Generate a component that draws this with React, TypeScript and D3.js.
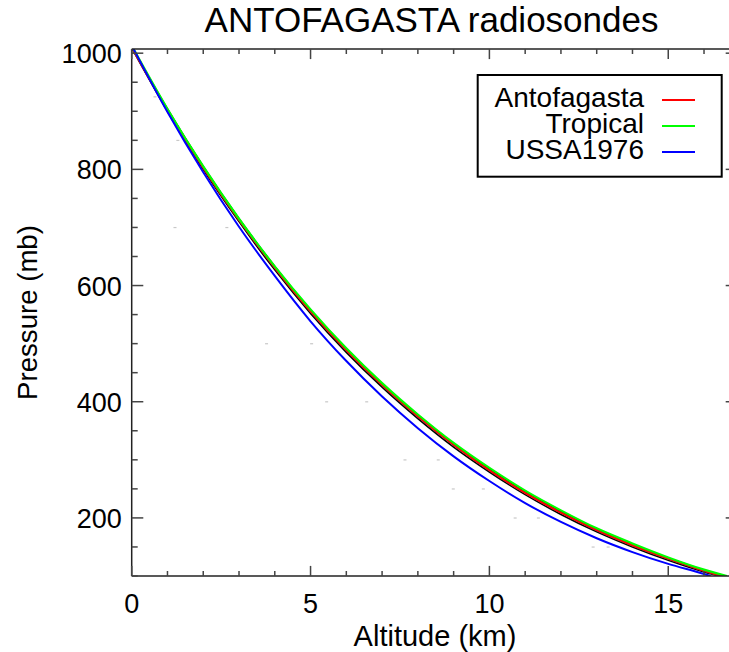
import React from "react";
import * as d3 from "d3";

// ---- data ----
const ussaAlt = [0, 1, 2, 3, 4, 5, 6, 7, 8, 9, 10, 11, 12, 13, 14, 15, 16, 16.18];
const ussaP = [1013.25, 898.76, 795.01, 701.21, 616.6, 538.5, 470.0, 409.0, 354.5, 306.0, 263.5, 225.5, 193.0, 165.0, 141.2, 120.8, 103.5, 100];

const tropAlt = [0, 1, 2, 3, 4, 5, 6, 7, 8, 9, 10, 11, 12, 13, 14, 15, 16, 16.64];
const tropP = [1013, 904, 805, 715, 633, 559, 492, 432, 378, 329, 286, 247, 213, 182, 156, 132, 111, 100];

const antoAlt = [0, 1, 2, 3, 4, 5, 6, 7, 8, 9, 10, 11, 12, 13, 14, 15, 16, 16.5];
const antoP = [1010, 902, 803, 713, 631, 556, 489, 429, 375, 326, 282, 243, 209, 179, 153, 130, 109, 100];

const sondeAlt1 = [0, 1, 2, 3, 4, 5, 6, 7, 8, 9, 10, 11, 12, 13, 14, 15, 16, 16.6];
const sondeP1 = [1011, 904, 805, 715, 633, 558, 491, 431, 377, 328, 284, 245, 211, 180, 154, 131, 110, 100];
const sondeAlt2 = [0, 1, 2, 3, 4, 5, 6, 7, 8, 9, 10, 11, 12, 13, 14, 15, 16, 16.42];
const sondeP2 = [1009, 900, 800, 710, 627, 552, 485, 425, 371, 322, 279, 240, 206, 176, 150, 127, 107, 100];

const outlierAlt = [0.65, 1.29, 1.21, 2.66, 3.77, 5.03, 5.45, 6.57, 7.64, 8.57, 8.99, 9.83, 10.72, 11.37, 12.9, 13.32];
const outlierP = [925, 850, 700, 700, 500, 500, 400, 400, 300, 300, 250, 250, 200, 200, 150, 150];

const xMajorTicks = [0, 5, 10, 15];
const xMinorTicks = d3.range(0, 17, 1);
const yMajorTicks = [200, 400, 600, 800, 1000];
const yMinorTicks = d3.range(100, 1001, 50);

const legendNames = ["Antofagasta", "Tropical", "USSA1976"];
const legendColors = ["#ff0000", "#00ff00", "#0000ff"];

const title = "ANTOFAGASTA radiosondes";
const xTitle = "Altitude (km)";
const yTitle = "Pressure (mb)";

// ---- layout ----
const W = 729;
const H = 652;
const left = 131.7;
const top = 49;
const bottom = 576;
const xMax = 16.93;
const kmPx = 35.77;
const right = left + xMax * kmPx;
const FONT = "'Liberation Sans', Arial, Helvetica, sans-serif";

export default function App() {
  const x = d3.scaleLinear().domain([0, xMax]).range([left, right]);
  const y = d3.scaleLinear().domain([100, 1007.2]).range([bottom, top]);

  const mk = (alts: number[], ps: number[]) =>
    d3
      .line<number>()
      .x((_, i) => x(alts[i]))
      .y((p) => y(p))
      .curve(d3.curveMonotoneX)(ps) || "";

  const tickCol = "#444";
  const majLen = 11.6;
  const minLen = 6;

  return (
    <svg
      width={W}
      height={H}
      style={{ position: "absolute", left: 0, top: 0, background: "#fff" }}
      fontFamily={FONT}
    >
      <defs>
        <clipPath id="plotclip">
          <rect x={left} y={top} width={right - left} height={bottom - top} />
        </clipPath>
      </defs>
      <rect x={0} y={0} width={W} height={H} fill="#fff" />

      {/* title */}
      <text x={431.5} y={32.3} fontSize={35} textAnchor="middle" fill="#000">
        {title}
      </text>

      <g clipPath="url(#plotclip)">
        {outlierAlt.map((a, i) => (
          <rect
            key={i}
            x={x(a) - 1.5}
            y={y(outlierP[i]) - 0.5}
            width={3}
            height={1.2}
            fill="#c8c8c8"
          />
        ))}
        <path d={mk(sondeAlt1, sondeP1)} fill="none" stroke="#000" strokeWidth={1.6} />
        <path d={mk(sondeAlt2, sondeP2)} fill="none" stroke="#000" strokeWidth={1.6} />
        <path d={mk(sondeAlt2, sondeP2.map((p, i) => (p + sondeP1[i]) / 2))} fill="none" stroke="#555" strokeWidth={1.4} />
        <path d={mk(antoAlt, antoP)} fill="none" stroke={legendColors[0]} strokeWidth={2} />
        <path d={mk(tropAlt, tropP)} fill="none" stroke={legendColors[1]} strokeWidth={2.2} />
        <path d={mk(ussaAlt, ussaP)} fill="none" stroke={legendColors[2]} strokeWidth={2} />
      </g>

      {/* axes frame */}
      <g stroke="#222" strokeWidth={1.5} fill="none">
        <line x1={left} y1={top} x2={left} y2={bottom} />
        <line x1={left} y1={bottom} x2={right} y2={bottom} />
        <line x1={left} y1={top} x2={right} y2={top} />
        <line x1={right} y1={top} x2={right} y2={bottom} />
      </g>

      {/* x ticks bottom & top */}
      <g stroke={tickCol} strokeWidth={1.5}>
        {xMinorTicks.map((t) => {
          const len = xMajorTicks.includes(t) ? majLen - 1.5 : minLen - 1;
          return (
            <g key={t}>
              <line x1={x(t)} x2={x(t)} y1={bottom} y2={bottom - len} />
              <line x1={x(t)} x2={x(t)} y1={top} y2={top + len} />
            </g>
          );
        })}
        {yMinorTicks.map((t) => {
          const len = yMajorTicks.includes(t) ? majLen : minLen;
          return (
            <g key={t}>
              <line x1={left} x2={left + len} y1={y(t)} y2={y(t)} />
              <line x1={right} x2={right - len} y1={y(t)} y2={y(t)} />
            </g>
          );
        })}
      </g>

      {/* tick labels */}
      {xMajorTicks.map((t) => (
        <text key={t} x={x(t)} y={612.7} fontSize={27} textAnchor="middle" fill="#000">
          {t}
        </text>
      ))}
      {yMajorTicks.map((t) => (
        <text key={t} x={121.7} y={y(t) + 10} fontSize={27} textAnchor="end" fill="#000">
          {t}
        </text>
      ))}

      {/* axis titles */}
      <text x={435} y={646} fontSize={29} textAnchor="middle" fill="#000">
        {xTitle}
      </text>
      <text
        transform={`translate(36.7,312.5) rotate(-90)`}
        fontSize={27.6}
        textAnchor="middle"
        fill="#000"
      >
        {yTitle}
      </text>

      {/* legend */}
      <rect x={477.7} y={75} width={244} height={101.7} fill="#fff" stroke="#000" strokeWidth={2} />
      {legendNames.map((n, i) => {
        const base = 106.5 + i * 26;
        return (
          <g key={n}>
            <text x={644} y={base} fontSize={28} textAnchor="end" fill="#000">
              {n}
            </text>
            <line x1={662} x2={695} y1={base - 6.5} y2={base - 6.5} stroke={legendColors[i]} strokeWidth={2} />
          </g>
        );
      })}
    </svg>
  );
}
